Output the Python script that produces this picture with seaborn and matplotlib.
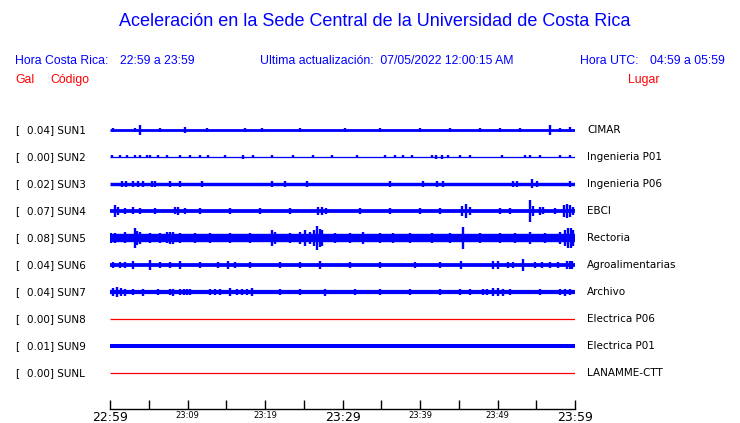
import pandas as pd
import matplotlib
matplotlib.use('Agg')
import matplotlib.pyplot as plt
import matplotlib.transforms as mtransforms
import seaborn as sns

# station info, top to bottom
codes = ['SUN1', 'SUN2', 'SUN3', 'SUN4', 'SUN5', 'SUN6', 'SUN7', 'SUN8', 'SUN9', 'SUNL']
gal = ['0.04', '0.00', '0.02', '0.07', '0.08', '0.04', '0.04', '0.00', '0.01', '0.00']
places = ['CIMAR', 'Ingenieria P01', 'Ingenieria P06', 'EBCI', 'Rectoria',
          'Agroalimentarias', 'Archivo', 'Electrica P06', 'Electrica P01', 'LANAMME-CTT']
active = [True, True, True, True, True, True, True, False, True, False]

# background noise level of each trace (relative amplitude)
base_amp = [1.4, 0.65, 1.7, 1.9, 4.2, 1.9, 2.1, 0.5, 2.0, 0.5]

# bursts: minutes after 22:59 and relative amplitude
sun1_min = [0.4, 3.2, 3.9, 6.5, 9.7, 12.5, 17.4, 19.6, 24.5, 30.3, 34.8, 40.0, 43.9, 47.7, 50.3, 52.9, 56.8, 58.1, 59.3]
sun1_amp = [2, 2, 5, 2, 3, 2, 2, 2, 2, 2, 2, 2, 2, 2, 2, 2, 5, 2, 2.5]
sun2_min = [0.3, 1.3, 2.2, 3.2, 3.9, 4.8, 5.2, 6.2, 7.4, 9.0, 10.3, 11.6, 12.6, 14.8, 17.2, 18.4, 20.9,
            23.6, 26.2, 28.6, 31.9, 35.5, 36.8, 37.8, 39.0, 41.5, 42.1, 42.8, 43.6, 45.2, 46.4, 50.6,
            53.5, 54.2, 55.5, 58.1, 59.3]
sun2_amp = [1.5, 1.5, 1.5, 1.5, 1.5, 1.5, 1.5, 1.5, 1.5, 1.5, 1.5, 1.5, 1.5, 1.5, 2, 1.5, 1.5,
            1.5, 1.5, 1.5, 1.5, 1.5, 1.5, 1.5, 1.5, 1.5, 2, 2, 1.5, 1.5, 1.5, 1.5,
            1.5, 1.5, 1.5, 1.5, 1.5]
sun3_min = [1.5, 2.1, 3.0, 3.6, 4.3, 5.4, 5.8, 7.7, 9.0, 11.9, 20.9, 22.6, 25.4, 36.1, 40.4, 42.2,
            43.0, 52.0, 52.5, 54.4, 55.1, 59.3]
sun3_amp = [2.7, 2.7, 2.7, 2.7, 2.7, 2.7, 2.7, 2.7, 2.7, 2.7, 2.7, 2.7, 2.7, 2.7, 2.7, 2.7,
            2.7, 3, 3, 4.5, 3, 2.7]
sun4_min = [0.6, 1.0, 1.9, 3.0, 3.9, 5.8, 8.4, 8.8, 9.7, 11.6, 15.5, 19.4, 23.2, 26.8, 27.3, 27.9,
            32.3, 36.1, 40.0, 42.6, 45.4, 45.9, 46.4, 50.3, 51.6, 54.2, 54.6, 55.5, 55.9, 57.4,
            58.6, 59.0, 59.3, 59.7]
sun4_amp = [6, 4, 3, 3.5, 3, 3, 3.5, 4, 3, 3, 3, 3, 3, 4, 4, 3,
            3, 3, 3, 3, 5, 7, 4, 3, 3, 11, 5, 4, 3.5, 3,
            6, 7, 6, 4]
sun5_min = [0.1, 0.6, 1.9, 3.2, 3.5, 3.9, 5.2, 6.5, 7.4, 7.7, 8.1, 9.0, 11.0, 12.9, 15.5, 18.1,
            20.9, 21.3, 23.2, 24.5, 25.2, 25.8, 26.3, 26.7, 27.1, 27.3, 29.0, 31.0, 32.6, 34.8,
            36.5, 38.7, 41.5, 43.9, 45.5, 47.7, 50.3, 52.2, 54.2, 56.1, 58.1, 58.7, 59.1, 59.5, 59.7]
sun5_amp = [5, 5, 5.5, 10, 7, 6, 5, 5, 5.5, 6, 6, 5, 5, 5, 5, 5,
            8, 6, 5, 6, 8, 6, 8, 12, 9, 8, 5, 5, 6, 5,
            5, 5, 5, 5, 11, 5, 5, 5, 6, 5, 6, 8, 10, 10, 8]
sun6_min = [0.4, 1.3, 1.9, 3.0, 5.2, 6.5, 7.7, 9.0, 11.6, 13.9, 15.2, 16.1, 18.1, 21.9, 24.5, 27.1,
            31.0, 34.8, 39.3, 42.6, 45.3, 49.4, 50.1, 51.4, 52.0, 53.3, 54.8, 55.7, 56.8, 57.8,
            59.0, 59.3, 59.6]
sun6_amp = [3, 3, 3, 3.5, 5.5, 3, 3, 3.5, 3, 3, 3.5, 3, 3, 3, 3, 4,
            3, 3, 3, 3, 4, 3.5, 3.5, 3, 3, 6, 3, 3, 3, 3,
            3.5, 4, 4]
sun7_min = [0.4, 0.9, 1.4, 1.9, 3.0, 4.3, 6.2, 7.7, 8.1, 9.0, 9.5, 9.9, 10.3, 12.9, 13.5, 14.2,
            15.5, 16.4, 17.0, 17.7, 18.3, 21.9, 24.5, 27.7, 31.6, 34.8, 38.7, 42.6, 45.2, 46.4,
            48.1, 48.6, 49.4, 50.1, 50.7, 51.6, 55.5, 58.1, 58.7, 59.3]
sun7_amp = [4, 4.5, 4, 3.5, 3, 3.5, 3, 3, 3.5, 3, 3, 3, 3, 3, 3, 3,
            4, 3, 3, 3, 4, 3, 3, 3.5, 3, 3, 3, 3, 3, 3,
            3, 3, 4, 4, 3.5, 3, 3, 3, 3.5, 3]

bursts = {'SUN1': (sun1_min, sun1_amp), 'SUN2': (sun2_min, sun2_amp), 'SUN3': (sun3_min, sun3_amp),
          'SUN4': (sun4_min, sun4_amp), 'SUN5': (sun5_min, sun5_amp), 'SUN6': (sun6_min, sun6_amp),
          'SUN7': (sun7_min, sun7_amp)}

tick_minutes = [0, 5, 10, 15, 20, 25, 30, 35, 40, 45, 50, 55, 60]
tick_labels = ['22:59', '', '23:09', '', '23:19', '', '23:29', '', '23:39', '', '23:49', '', '23:59']
major_labels = ['22:59', '23:29', '23:59']

rows = []
for code, (mins, amps) in bursts.items():
    for m, a in zip(mins, amps):
        rows.append({'code': code, 'minute': m, 'amp': a, 'row': codes.index(code)})
ev = pd.DataFrame(rows)

sns.set_theme(style='white')
plt.rcParams['font.family'] = ['DejaVu Sans']

BLUE = '#0000ff'
RED = '#ff0000'
W, H = 740, 423
fig = plt.figure(figsize=(7.4, 4.23), dpi=100)
ax = fig.add_axes([110 / W, 1 - 409 / H, 465 / W, (409 - 115) / H])
ax.set_xlim(0, 60)
row_px = 27.0
ax.set_ylim((409 - 130) / row_px, -(130 - 115) / row_px)
s = 1 / row_px  # amplitude units are one pixel

for i, code in enumerate(codes):
    if active[i]:
        ax.hlines(i, 0, 60, color=BLUE, lw=2 * base_amp[i] * 0.72, capstyle='butt')
    else:
        ax.hlines(i, 0, 60, color=RED, lw=0.9, capstyle='butt')

ax.vlines(ev['minute'], ev['row'] - ev['amp'] * s, ev['row'] + ev['amp'] * s,
          color=BLUE, lw=1.7, capstyle='butt')

sns.despine(ax=ax, left=True, top=True, right=True)
ax.spines['bottom'].set_color('black')
ax.spines['bottom'].set_linewidth(1.0)
ax.set_yticks([])
ax.set_xticks(tick_minutes)
ax.set_xticklabels(tick_labels)
ax.tick_params(axis='x', direction='in', length=6.5, width=1.0, color='black', pad=1.5,
               bottom=True)
for lab in ax.get_xticklabels():
    if lab.get_text() in major_labels:
        lab.set_fontsize(9)
    else:
        lab.set_fontsize(6)
    lab.set_color('black')
ax.grid(False)

# station labels, placed on each trace row
tr = mtransforms.blended_transform_factory(fig.transFigure, ax.transData)
for i, code in enumerate(codes):
    ax.text(15 / W, i, '[', transform=tr, fontsize=7.5, color='black', va='center', ha='left')
    ax.text(27 / W, i, f'{gal[i]}] {code}', transform=tr, fontsize=7.5, color='black',
            va='center', ha='left')
    ax.text(587 / W, i, places[i], transform=tr, fontsize=7.5, color='black',
            va='center', ha='left')

hfont = ['Liberation Sans', 'DejaVu Sans']
fig.text(375 / W, 1 - 22 / H, 'Aceleración en la Sede Central de la Universidad de Costa Rica',
         ha='center', va='center', fontsize=13.0, color=BLUE, family=hfont)
fig.text(15 / W, 1 - 61 / H, 'Hora Costa Rica:', ha='left', va='center', fontsize=8.8,
         color=BLUE, family=hfont)
fig.text(120 / W, 1 - 61 / H, '22:59 a 23:59', ha='left', va='center', fontsize=8.8,
         color=BLUE, family=hfont)
fig.text(260 / W, 1 - 61 / H, 'Ultima actualización:  07/05/2022 12:00:15 AM', ha='left',
         va='center', fontsize=8.8, color=BLUE, family=hfont)
fig.text(580 / W, 1 - 61 / H, 'Hora UTC:', ha='left', va='center', fontsize=8.8,
         color=BLUE, family=hfont)
fig.text(650 / W, 1 - 61 / H, '04:59 a 05:59', ha='left', va='center', fontsize=8.8,
         color=BLUE, family=hfont)
fig.text(15 / W, 1 - 80 / H, 'Gal', ha='left', va='center', fontsize=8.8, color=RED, family=hfont)
fig.text(50 / W, 1 - 80 / H, 'Código', ha='left', va='center', fontsize=8.8, color=RED,
         family=hfont)
fig.text(628 / W, 1 - 80 / H, 'Lugar', ha='left', va='center', fontsize=8.8, color=RED,
         family=hfont)

fig.savefig('out.png', dpi=100, facecolor='white')
